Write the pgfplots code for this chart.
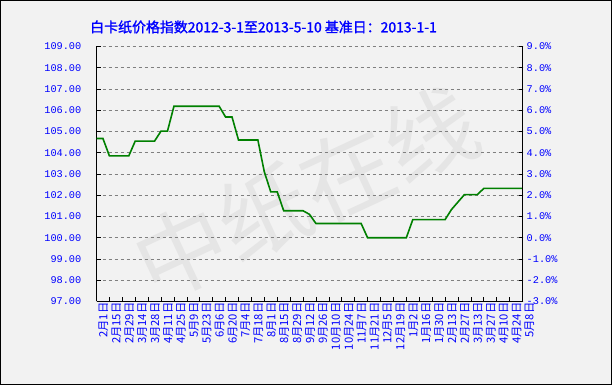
\documentclass[border=0pt]{standalone}
\usepackage{pgfplots}
\pgfplotsset{compat=1.18}
\usepackage{fontspec}
\setmainfont{Liberation Sans}
\newfontfamily\cjk{Noto Sans CJK SC}
\newfontfamily\cjkb[FakeBold=1.5]{Noto Sans CJK SC}
\newfontfamily\mono{Liberation Mono}
\definecolor{lineg}{RGB}{0,128,0}
\definecolor{tblue}{RGB}{0,0,255}
\definecolor{bg}{RGB}{242,242,242}
\begin{document}
\begin{tikzpicture}
\useasboundingbox (0,0) rectangle (612bp,385bp);
\fill[bg] (0,0) rectangle (612bp,385bp);
\node[rotate=25, text=gray!20, font=\cjk\fontsize{92}{92}\selectfont] at (306bp,192bp) {中纸在线};
\begin{axis}[
  at={(96.5bp,83.5bp)}, anchor=south west, scale only axis,
  width=426bp, height=255bp,
  xmin=0, xmax=462, ymin=97, ymax=109,
  axis x line*=bottom, axis y line*=left,
  axis line style={black, line width=0.8bp, -},
  tick align=inside, major tick length=4bp,
  tick style={black, line width=0.6bp},
  xtick={0,14,...,462},
  xticklabels={2月1日,2月15日,2月29日,3月14日,3月28日,4月11日,4月25日,5月9日,5月23日,6月6日,6月20日,7月4日,7月18日,8月1日,8月15日,8月29日,9月12日,9月26日,10月10日,10月24日,11月7日,11月21日,12月5日,12月19日,1月2日,1月16日,1月30日,2月13日,2月27日,3月13日,3月27日,4月10日,4月24日,5月8日},
  xticklabel style={rotate=90, anchor=east, text=tblue, font=\cjk\fontsize{11.3}{11.3}\selectfont, yshift=-7bp, inner sep=1bp},
  ytick={97,...,109},
  yticklabels={97.00,98.00,99.00,100.00,101.00,102.00,103.00,104.00,105.00,106.00,107.00,108.00,109.00},
  yticklabel style={text=tblue, font=\mono\fontsize{10.3}{10.3}\selectfont, xshift=-14bp, inner sep=1bp},
  ymajorgrids, grid style={dash pattern=on 3bp off 3bp, gray, line width=0.6bp},
  clip=false,
]
\addplot[lineg, line width=1.6bp] coordinates {
(0,104.67) (7,104.67) (14,103.85) (21,103.85) (28,103.85) (35,103.85)
(42,104.55) (49,104.55) (56,104.55) (63,104.55) (70,105.02) (77,105.02)
(84,106.19) (91,106.19) (98,106.19) (105,106.19) (112,106.19) (119,106.19) (126,106.19) (133,106.19)
(140,105.68) (147,105.68) (154,104.6) (161,104.6) (168,104.6) (175,104.6)
(182,103.1) (189,102.16) (196,102.16) (203,101.27) (210,101.27) (217,101.27) (224,101.27)
(231,101.1) (238,100.67) (245,100.67) (252,100.67) (259,100.67) (266,100.67) (273,100.67) (280,100.67) (287,100.67)
(294,100.0) (301,100.0) (308,100.0) (315,100.0) (322,100.0) (329,100.0) (336,100.0)
(343,100.85) (350,100.85) (357,100.85) (364,100.85) (371,100.85) (378,100.85)
(385,101.33) (392,101.68) (399,102.03) (406,102.03) (413,102.03)
(420,102.32) (427,102.32) (434,102.32) (441,102.32) (448,102.32) (455,102.32) (462,102.32)
};
\end{axis}
\begin{axis}[
  at={(96.5bp,83.5bp)}, anchor=south west, scale only axis,
  width=426bp, height=255bp,
  xmin=0, xmax=462, ymin=-3, ymax=9,
  axis y line*=right, axis x line=none,
  axis line style={black, line width=0.8bp, -},
  tick align=inside, major tick length=4bp,
  tick style={black, line width=0.6bp},
  ytick={-3,...,9},
  yticklabels={-3.0\%,-2.0\%,-1.0\%,0.0\%,1.0\%,2.0\%,3.0\%,4.0\%,5.0\%,6.0\%,7.0\%,8.0\%,9.0\%},
  yticklabel style={text=tblue, font=\mono\fontsize{10.3}{10.3}\selectfont, xshift=3bp, inner sep=1bp},
]
\addplot[draw=none] coordinates {(0,0)};
\end{axis}
\node[text=tblue, font=\cjkb\fontsize{14}{14}\selectfont] at (263.5bp,358bp) {白卡纸价格指数2012-3-1至2013-5-10 基准日：2013-1-1};
\draw[black, line width=1bp] (0.5bp,0.5bp) rectangle (611.5bp,384.5bp);
\end{tikzpicture}
\end{document}
